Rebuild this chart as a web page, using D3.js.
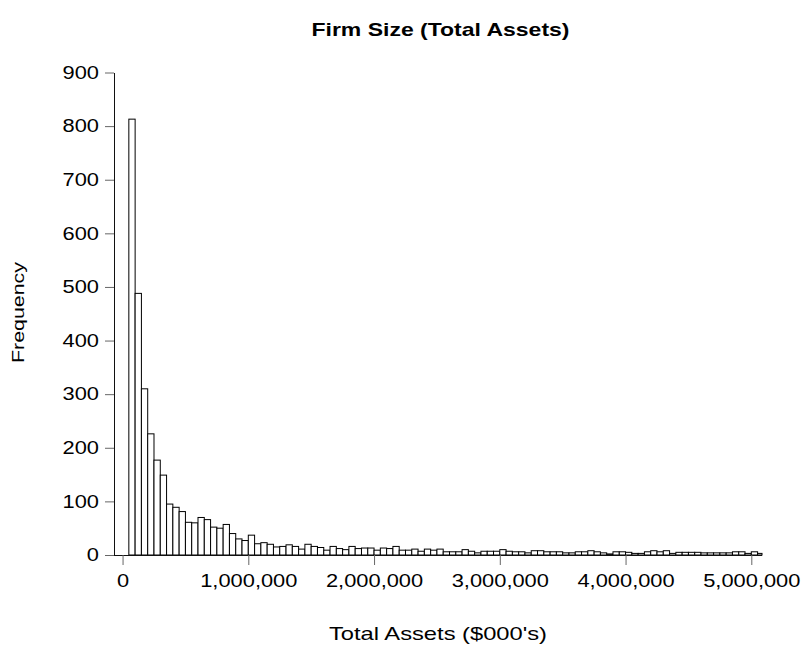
<!DOCTYPE html>
<html>
<head>
<meta charset="utf-8">
<script src="https://cdn.jsdelivr.net/npm/d3@7"></script>
<style>
  html, body { margin: 0; padding: 0; background: #fff; }
  svg { display: block; font-family: "Liberation Sans", Arial, sans-serif; }
</style>
</head>
<body>
<svg id="chart" width="804" height="649"></svg>
<script>
// Histogram of firm total assets ($000's), bins of 50,000 starting at 50,000
const binStart = 50000;
const binWidth = 50000;
const frequencies = [
  813, 488, 310, 226, 177, 149, 95, 89, 81, 61,
  60, 70, 66, 52, 50, 57, 40, 30, 27, 37,
  21, 23, 20, 15, 16, 19, 16, 11, 20, 16,
  14, 9, 16, 12, 10, 16, 12, 13, 13, 9,
  13, 12, 16, 9, 9, 11, 7, 11, 9, 11,
  6, 6, 6, 10, 7, 4, 7, 7, 7, 10,
  7, 6, 6, 4, 8, 8, 6, 6, 6, 4,
  4, 6, 6, 8, 6, 4, 2, 6, 6, 5,
  3, 3, 6, 8, 6, 8, 3, 5, 5, 5,
  5, 4, 4, 4, 4, 4, 6, 6, 3, 6,
  3
];
const xTicks = [0, 1000000, 2000000, 3000000, 4000000, 5000000];
const yTicks = [0, 100, 200, 300, 400, 500, 600, 700, 800, 900];

const chartTitle = "Firm Size (Total Assets)";
const xTitle = "Total Assets ($000's)";
const yTitle = "Frequency";

const svg = d3.select("#chart");
const plotLeft = 114, plotRight = 762, plotTop = 72.5, plotBottom = 555;

const x = d3.scaleLinear().domain([-68000, 5085000]).range([plotLeft, plotRight]);
const y = d3.scaleLinear().domain([0, 900]).range([plotBottom, plotTop]);

const bins = frequencies.map((v, i) => ({
  x0: binStart + i * binWidth,
  x1: Math.min(binStart + (i + 1) * binWidth, x.domain()[1]),
  v
}));

// bars
svg.append("g")
  .selectAll("rect")
  .data(bins)
  .join("rect")
  .attr("x", d => x(d.x0))
  .attr("width", d => x(d.x1) - x(d.x0))
  .attr("y", d => y(d.v))
  .attr("height", d => y(0) - y(d.v))
  .attr("fill", "#fff")
  .attr("stroke", "#000")
  .attr("stroke-width", 1);

const numFmt = d3.format(",");

// x axis
const xAxis = svg.append("g")
  .attr("transform", `translate(0,${plotBottom})`)
  .call(d3.axisBottom(x).tickValues(xTicks).tickSize(10).tickSizeOuter(0).tickFormat(numFmt));
xAxis.select(".domain").attr("stroke", "#111").attr("d", `M${plotLeft},0.5H${plotRight}`);
xAxis.selectAll(".tick line").attr("stroke", "#666");
xAxis.selectAll(".tick text")
  .attr("fill", "#000")
  .attr("font-size", 19)
  .attr("y", 0).attr("dy", null)
  .attr("transform", "translate(0,32) scale(1.15,1)");

// y axis
const yAxis = svg.append("g")
  .attr("transform", `translate(${plotLeft},0)`)
  .call(d3.axisLeft(y).tickValues(yTicks).tickSize(9).tickSizeOuter(0).tickFormat(d3.format("d")));
yAxis.select(".domain").attr("stroke", "#111");
yAxis.selectAll(".tick line").attr("stroke", "#666");
yAxis.selectAll(".tick text")
  .attr("fill", "#000")
  .attr("font-size", 19)
  .attr("x", 0).attr("dy", "0.3em")
  .attr("transform", "translate(-15,0) scale(1.15,1)");

// titles
svg.append("text")
  .attr("x", 440.5).attr("y", 36)
  .attr("text-anchor", "middle")
  .attr("font-weight", "bold")
  .attr("font-size", 19)
  .attr("textLength", 258).attr("lengthAdjust", "spacingAndGlyphs")
  .text(chartTitle);

svg.append("text")
  .attr("x", 438).attr("y", 640)
  .attr("text-anchor", "middle")
  .attr("font-size", 19)
  .attr("textLength", 218).attr("lengthAdjust", "spacingAndGlyphs")
  .text(xTitle);

svg.append("text")
  .attr("transform", "translate(24,312.5) rotate(-90)")
  .attr("text-anchor", "middle")
  .attr("font-size", 17)
  .attr("textLength", 101).attr("lengthAdjust", "spacingAndGlyphs")
  .text(yTitle);
</script>
</body>
</html>
